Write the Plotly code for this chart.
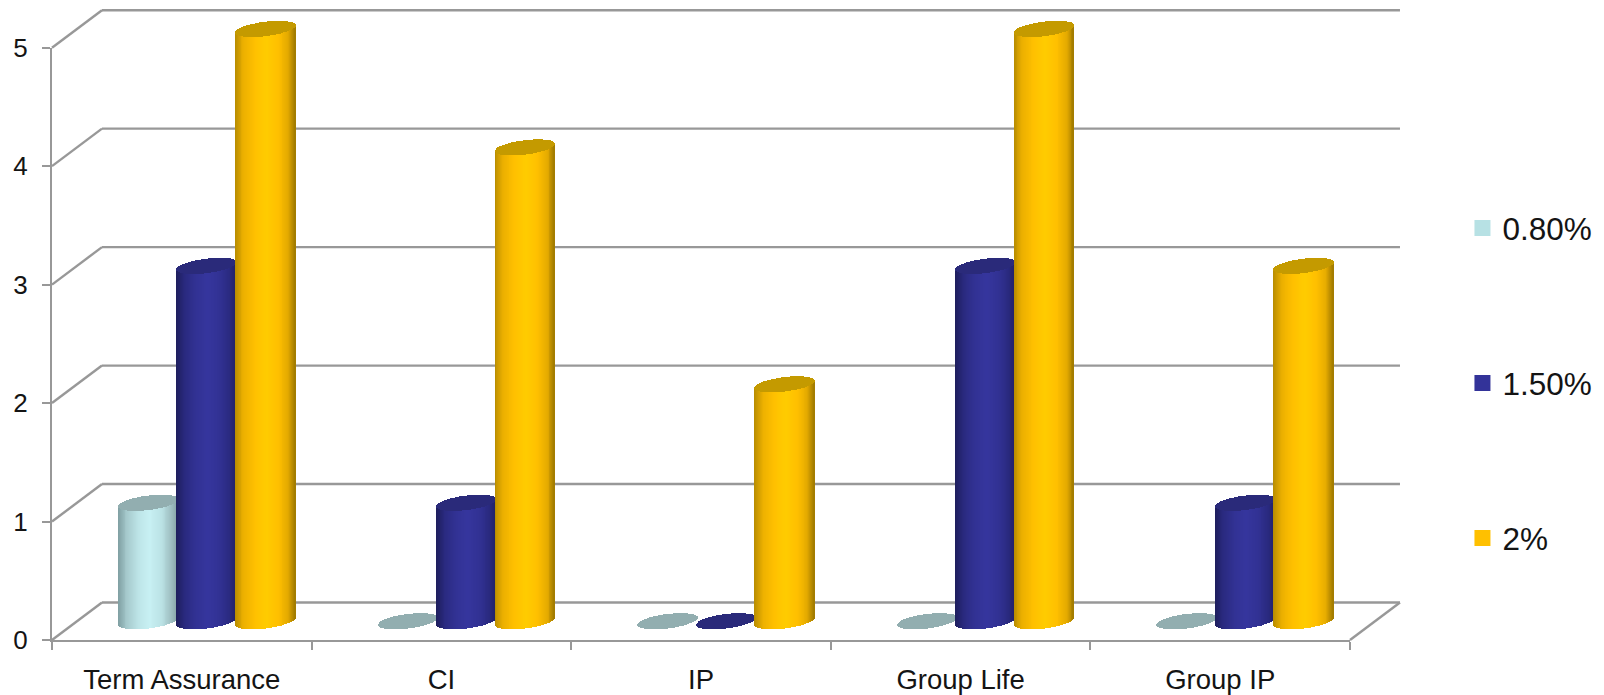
import numpy as np
import plotly.graph_objects as go

categories = ["Term Assurance", "CI", "IP", "Group Life", "Group IP"]
rate_low = [1, 0, 0, 0, 0]
rate_mid = [3, 1, 0, 3, 1]
rate_high = [5, 4, 2, 5, 3]
series_names = ["0.80%", "1.50%", "2%"]
value_ticks = [0, 1, 2, 3, 4, 5]

# Plot frame in pixels
WIDTH, HEIGHT = 1604, 695
LEFT, RIGHT, TOP, BOTTOM = 52, 1350.5, 47.7, 640
PX_X = (RIGHT - LEFT) / len(categories)
PX_Y = (BOTTOM - TOP) / 5
# The drawing area runs up to the page top so the 3D walls and caps have room
FULL_RANGE = BOTTOM / PX_Y

# Pseudo-3D wall depth, in axis units
DEPTH_X = 50 / PX_X
DEPTH_Y = 37.5 / PX_Y

# Cylinder geometry, in axis units
SPACING = 58.5 / PX_X
HALF_W = 29.8 / PX_X
RIM_B = 7.2 / PX_Y
RIM_TILT = 3.6 / PX_Y
STRIPS = 64

GRID = "#989898"
TEXT = "#141414"
FONT = "Liberation Sans, Arial, sans-serif"

swatch_colors = ["#B7E1E4", "#333399", "#FFC000"]
cap_colors = ["#92AEB0", "#2A2A7A", "#C49A00"]
# Shading across the cylinder, from left edge (-1) to right edge (+1)
shade_stops = [-1.0, -0.72, -0.35, 0.05, 0.45, 0.78, 1.0]
body_shades = [
    ["#7F9FA2", "#A4C8CB", "#BCE3E6", "#C8F1F4", "#BCE3E6", "#A0C0C3", "#84A0A2"],
    ["#1E1E5C", "#2A2A80", "#323294", "#36369E", "#323294", "#2A2A80", "#222266"],
    ["#B88C00", "#ECB000", "#FFC000", "#FFCC00", "#FFC000", "#E4AA00", "#A07A00"],
]


def shade(stops_hex, u):
    rgb = np.array([[int(c[i:i + 2], 16) for i in (1, 3, 5)] for c in stops_hex])
    chans = [np.interp(u, shade_stops, rgb[:, k]) for k in range(3)]
    return [f"rgb({int(r)},{int(g)},{int(b)})" for r, g, b in zip(*chans)]


fig = go.Figure()
u = (np.arange(STRIPS) + 0.5) / STRIPS * 2 - 1
strip_w = 2 * HALF_W / STRIPS * 1.02
floor = DEPTH_Y / 2

for s, values in enumerate([rate_low, rate_mid, rate_high]):
    for c, value in enumerate(values):
        cx = c + 0.5 + DEPTH_X / 2 + (s - 1) * SPACING
        xs = cx + u * HALF_W
        arc = RIM_B * np.sqrt(1 - u ** 2)
        tilt = RIM_TILT * u
        if value > 0:
            fig.add_trace(go.Bar(
                x=xs, base=floor + tilt - arc, y=np.full(STRIPS, float(value)),
                width=strip_w, showlegend=False, hoverinfo="skip",
                yaxis="y2", marker=dict(color=shade(body_shades[s], u), line_width=0),
            ))
        # The end cap, or the flat disc where the value is zero
        fig.add_trace(go.Bar(
            x=xs, base=value + floor + tilt - arc, y=2 * arc,
            width=strip_w, showlegend=False, hoverinfo="skip",
            yaxis="y2", marker=dict(color=cap_colors[s], line_width=0),
        ))

# Legend swatches, each in a group of its own so the gap spaces them out
for name, color in zip(series_names, swatch_colors):
    fig.add_trace(go.Scatter(
        x=[None], y=[None], mode="markers", name=name, legendgroup=name,
        marker=dict(symbol="square", size=16, color=color),
    ))


def wall_line(x0, y0, x1, y1):
    n = len(categories)
    return dict(type="line", xref="paper", yref="paper",
                x0=x0 / n, y0=y0 / FULL_RANGE, x1=x1 / n, y1=y1 / FULL_RANGE,
                layer="below", line=dict(color=GRID, width=2.4))


shapes = []
n = len(categories)
for v in value_ticks:
    # Diagonal up the side wall, then along the back wall
    shapes.append(wall_line(0, v, DEPTH_X, v + DEPTH_Y))
    shapes.append(wall_line(DEPTH_X, v + DEPTH_Y, n + DEPTH_X, v + DEPTH_Y))
shapes.append(wall_line(n, 0, n + DEPTH_X, DEPTH_Y))

fig.update_layout(
    width=WIDTH, height=HEIGHT,
    margin=dict(l=LEFT, r=WIDTH - RIGHT, t=0, b=HEIGHT - BOTTOM, autoexpand=False),
    paper_bgcolor="white", plot_bgcolor="rgba(0,0,0,0)",
    barmode="overlay", bargap=0,
    font=dict(family=FONT, color=TEXT),
    shapes=shapes,
    xaxis=dict(
        range=[0, n], tickmode="array",
        tickvals=[i + 0.5 for i in range(n)], ticktext=categories,
        ticks="outside", ticklen=14, tickcolor="rgba(0,0,0,0)", tickwidth=1,
        tickfont=dict(size=27.5, family=FONT, color=TEXT),
        showgrid=False, zeroline=False,
        showline=True, linecolor=GRID, linewidth=2.4,
        minor=dict(tick0=0, dtick=1, ticks="outside", ticklen=8,
                   tickcolor=GRID, tickwidth=2.4, showgrid=False),
    ),
    yaxis=dict(
        domain=[0, 5 / FULL_RANGE], range=[0, 5], tickmode="array",
        tickvals=value_ticks,
        ticks="outside", ticklen=8, tickcolor=GRID, tickwidth=2.4,
        ticklabelstandoff=9,
        tickfont=dict(size=26, family=FONT, color=TEXT),
        showgrid=False, zeroline=False,
        showline=True, linecolor=GRID, linewidth=2.4,
    ),
    yaxis2=dict(domain=[0, 1], range=[0, FULL_RANGE], anchor="x", visible=False),
    legend=dict(
        x=(1463 - LEFT) / (RIGHT - LEFT), xanchor="left",
        y=1 - 201 / HEIGHT, yref="container", yanchor="top",
        tracegroupgap=111, bgcolor="rgba(0,0,0,0)", borderwidth=0,
        font=dict(size=31.5, family=FONT, color=TEXT),
        itemsizing="trace", itemwidth=30, maxheight=500,
    ),
)

fig.write_html("out.html", config=dict(displayModeBar=False))
